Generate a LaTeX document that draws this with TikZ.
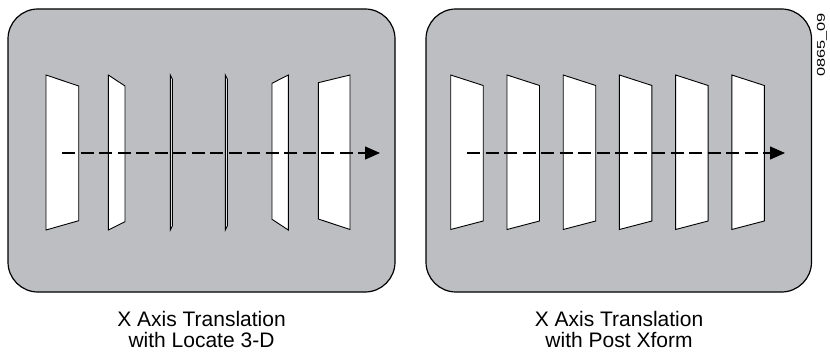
\documentclass[tikz,border=0pt]{standalone}
\usepackage{fontspec}
\setmainfont{Liberation Sans}
\newfontfamily\tagfont[FakeStretch=1.45]{Liberation Sans}
\usetikzlibrary{arrows.meta}
\definecolor{panelgray}{RGB}{189,190,194}

\begin{document}
\begin{tikzpicture}[x=1pt, y=-1pt,
    panel/.style={draw=black, line width=1.2pt, fill=panelgray, rounded corners=30pt},
    card/.style={draw=black, line width=0.9pt, fill=white, line join=miter},
    axis/.style={line width=1.2pt, dash pattern=on 13pt off 5.5pt, -{Triangle[length=15pt, width=13pt]}},
    caption/.style={font=\fontsize{21}{21}\selectfont, anchor=base,
      inner sep=0pt, text height=15.2pt, text depth=2pt}]

  \useasboundingbox (0,0) rectangle (830,358);

  % Panels
  \draw[panel] (8,9) rectangle (395,292);
  \draw[panel] (426,9) rectangle (811.5,292);

  % Left panel: cards turning with Locate 3-D
  \filldraw[card] (46,75) -- (78.7,86) -- (78.7,220.7) -- (46,230) -- cycle;
  \filldraw[card] (108.3,75) -- (125,86) -- (125,221.7) -- (108.3,230) -- cycle;
  \filldraw[card] (170.3,75) -- (172.3,79) -- (172.3,226) -- (170.3,230) -- cycle;
  \filldraw[card] (225.3,75) -- (227.3,79) -- (227.3,226) -- (225.3,230) -- cycle;
  \filldraw[card] (272,83.3) -- (288.3,75) -- (288.3,230) -- (272,219.3) -- cycle;
  \filldraw[card] (318.3,82.7) -- (350,75) -- (350,229.5) -- (318.3,219) -- cycle;

  % Right panel: cards keeping their shape with Post Xform
  \filldraw[card] (450.7,75) -- (483.2,85.5) -- (483.2,221) -- (450.7,229.5) -- cycle;
  \filldraw[card] (507,75) -- (539.5,85.5) -- (539.5,221) -- (507,229.5) -- cycle;
  \filldraw[card] (563.2,75) -- (595.7,85.5) -- (595.7,221) -- (563.2,229.5) -- cycle;
  \filldraw[card] (619.4,75) -- (651.9,85.5) -- (651.9,221) -- (619.4,229.5) -- cycle;
  \filldraw[card] (675.6,75) -- (708.1,85.5) -- (708.1,221) -- (675.6,229.5) -- cycle;
  \filldraw[card] (731.8,75) -- (764.3,85.5) -- (764.3,221) -- (731.8,229.5) -- cycle;

  % Axes
  \coordinate (LA) at (62,153);
  \coordinate (LB) at (380,153);
  \coordinate (RA) at (467,153);
  \coordinate (RB) at (785,153);
  \draw[axis] (LA) -- (LB);
  \draw[axis] (RA) -- (RB);

  % Captions
  \node[caption] (capL1) at (201.5,326) {X Axis Translation};
  \node[caption] (capL2) at (201.5,347) {with Locate 3-D};
  \node[caption] (capR1) at (619,326) {X Axis Translation};
  \node[caption] (capR2) at (619,347) {with Post Xform};

  % Figure tag
  \node[rotate=90, font=\tagfont\fontsize{11.3}{12}\selectfont, inner sep=0pt] (tag) at (822,45) {0865\_09};
\end{tikzpicture}
\end{document}
